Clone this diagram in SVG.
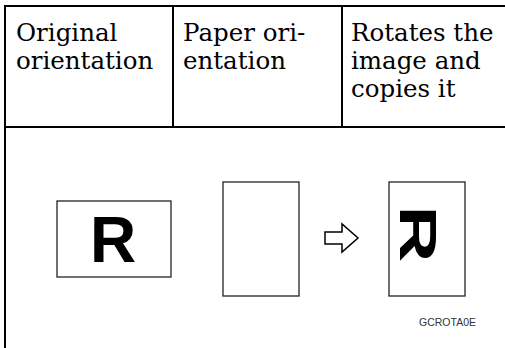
<svg xmlns="http://www.w3.org/2000/svg" width="505" height="348" viewBox="0 0 505 348">
<style>
.grid{stroke:#000;stroke-width:2;fill:none}
.hdr{font-family:"DejaVu Serif","Liberation Serif",serif;font-size:24.5px;fill:#000}
.sheet{fill:#fff;stroke:#222;stroke-width:1.3}
.big{font-family:"Liberation Sans",Arial,sans-serif;font-weight:bold;font-size:64px;fill:#000}
.code{font-family:"Liberation Sans",Arial,sans-serif;font-size:10.5px;fill:#333}
</style>
<rect width="505" height="348" fill="#fff"/>
<g id="table" class="grid">
<line x1="5" y1="6" x2="505" y2="6"/>
<line x1="5" y1="5" x2="5" y2="348"/>
<line x1="173" y1="6" x2="173" y2="127"/>
<line x1="342" y1="6" x2="342" y2="127"/>
<line x1="5" y1="127" x2="505" y2="127"/>
</g>
<g id="header1"><text class="hdr" x="16" y="41">Original</text><text class="hdr" x="16" y="69">orientation</text></g>
<g id="header2"><text class="hdr" x="183" y="41">Paper ori-</text><text class="hdr" x="183" y="69">entation</text></g>
<g id="header3"><text class="hdr" x="351" y="41">Rotates the</text><text class="hdr" x="351" y="69">image and</text><text class="hdr" x="351" y="97">copies it</text></g>
<g id="original">
<rect class="sheet" x="57" y="201" width="114" height="76"/>
<text class="big" x="113" y="262" text-anchor="middle">R</text>
</g>
<g id="paper">
<rect class="sheet" x="223" y="182" width="76" height="114"/>
</g>
<g id="connectors">
<path d="M325,232 H342 V224 L358,238 L342,252 V244 H325 Z" fill="#fff" stroke="#000" stroke-width="1.5" stroke-linejoin="miter"/>
</g>
<g id="result">
<rect class="sheet" x="389" y="182" width="76" height="114"/>
<text class="big" text-anchor="middle" transform="translate(418.5,234) rotate(90) scale(1.23,0.8)" x="0" y="23">R</text>
</g>
<text class="code" x="419" y="326">GCROTA0E</text>
</svg>
